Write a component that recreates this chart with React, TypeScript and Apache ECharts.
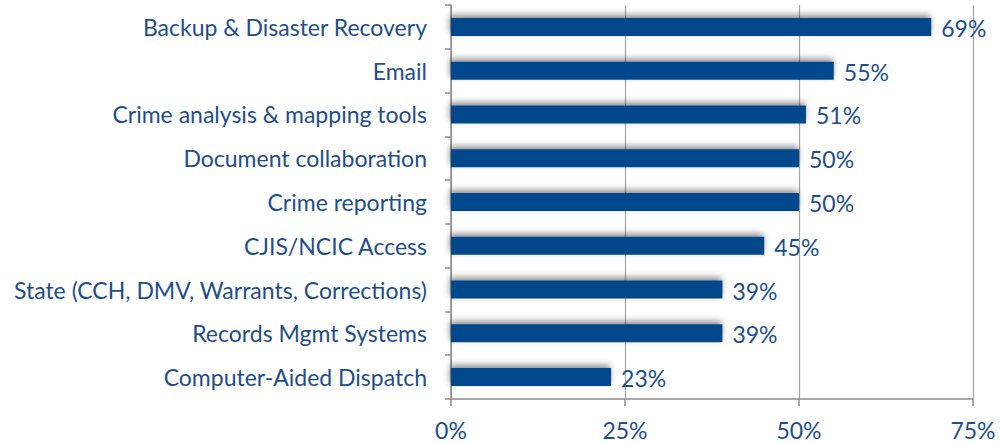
import React, { useEffect, useRef } from "react";
import * as echarts from "echarts";

const categories = [
  "Computer-Aided Dispatch",
  "Records Mgmt Systems",
  "State (CCH, DMV, Warrants, Corrections)",
  "CJIS/NCIC Access",
  "Crime reporting",
  "Document collaboration",
  "Crime analysis & mapping tools",
  "Email",
  "Backup & Disaster Recovery",
];
const values = [23, 39, 39, 45, 50, 50, 51, 55, 69];

const TEXT = "#1F4E8C";
const FONT = "Lato";
const FS = 23;

export default function App() {
  const ref = useRef<HTMLDivElement>(null);
  useEffect(() => {
    if (!ref.current) return;
    const chart = echarts.init(ref.current, null, { renderer: "svg" });
    chart.setOption({
      animation: false,
      grid: { left: 451, right: 28, top: 5, bottom: 44, containLabel: false },
      xAxis: {
        type: "value",
        min: 0,
        max: 75,
        interval: 25,
        axisLine: { show: true, lineStyle: { color: "#8c8c8c", width: 1.5 } },
        axisTick: { show: true, length: 7, lineStyle: { color: "#8c8c8c", width: 1.5 } },
        splitLine: { show: true, lineStyle: { color: "#a6a6a6", width: 1.2 } },
        axisLabel: {
          color: TEXT,
          fontSize: FS,
          fontFamily: FONT,
          margin: 19,
          formatter: "{value}%",
        },
      },
      yAxis: {
        type: "category",
        data: categories,
        axisLine: { show: true, lineStyle: { color: "#8c8c8c", width: 1.5 } },
        axisTick: { show: true, length: 6, lineStyle: { color: "#8c8c8c", width: 1.5 } },
        axisLabel: { color: TEXT, fontSize: FS, fontFamily: FONT, margin: 24, padding: [0, 0, 6, 0] },
      },
      series: [
        {
          type: "bar",
          data: values,
          barWidth: 18,
          itemStyle: {
            color: "#00468B",
            shadowColor: "rgba(0,0,0,0.45)",
            shadowBlur: 6,
            shadowOffsetX: -1,
            shadowOffsetY: -3,
          },
          label: {
            show: true,
            position: "right",
            distance: 10,
            color: TEXT,
            fontSize: FS,
            fontFamily: FONT,
            formatter: "{c}%",
            offset: [0, 1],
          },
        },
      ],
    });
    return () => chart.dispose();
  }, []);
  return <div ref={ref} style={{ width: 1001, height: 443, position: "absolute", left: 0, top: 0 }} />;
}
